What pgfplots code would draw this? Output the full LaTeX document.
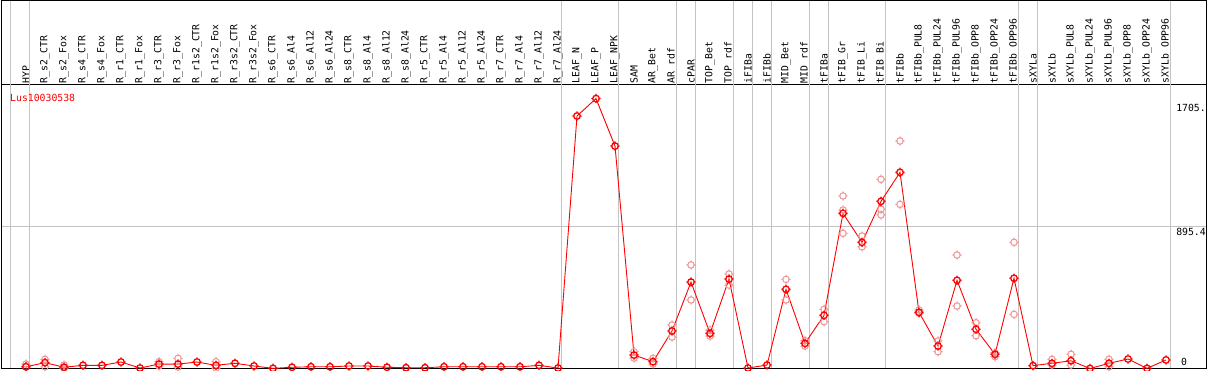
\documentclass[border=0pt]{standalone}
\usepackage{fontspec}
\setmainfont{DejaVu Sans}
\setmonofont{DejaVu Sans Mono}
\usepackage{pgfplots}
\pgfplotsset{compat=1.18}
\usepackage{pgfplotstable}

\pgfdeclareplotmark{otick}{%
  \pgfpathcircle{\pgfpointorigin}{\pgfplotmarksize}%
  \pgfpathmoveto{\pgfpoint{0pt}{0.7\pgfplotmarksize}}\pgfpathlineto{\pgfpoint{0pt}{1.4\pgfplotmarksize}}%
  \pgfpathmoveto{\pgfpoint{0pt}{-0.7\pgfplotmarksize}}\pgfpathlineto{\pgfpoint{0pt}{-1.4\pgfplotmarksize}}%
  \pgfpathmoveto{\pgfpoint{0.7\pgfplotmarksize}{0pt}}\pgfpathlineto{\pgfpoint{1.4\pgfplotmarksize}{0pt}}%
  \pgfpathmoveto{\pgfpoint{-0.7\pgfplotmarksize}{0pt}}\pgfpathlineto{\pgfpoint{-1.4\pgfplotmarksize}{0pt}}%
  \pgfusepathqstroke}

\definecolor{rep}{RGB}{240,150,150}
\definecolor{grd}{RGB}{195,195,195}

\pgfplotstableread{
x y
0 11
1 37
2 8
3 20
4 20
5 41
6 3
7 28
8 28
9 41
10 20
11 33
12 16
13 1
14 8
15 11
16 11
17 16
18 16
19 8
20 5
21 5
22 11
23 11
24 11
25 11
26 11
27 20
28 3
29 1595
30 1705
31 1405
32 85
33 43
34 237
35 546
36 222
37 565
38 3
39 22
40 500
41 159
42 336
43 980
44 797
45 1056
46 1239
47 355
48 142
49 557
50 248
51 90
52 570
53 18
54 33
55 49
56 0
57 33
58 60
59 1
60 54
}\mainT

\pgfplotstableread{
x y
0 28
0 11
1 58
1 11
2 22
2 3
7 43
7 16
8 64
8 9
10 43
10 3
32 106
32 66
33 64
33 28
34 275
34 199
35 654
35 433
36 243
36 205
37 597
37 527
40 563
40 433
41 176
41 142
42 374
42 296
43 1090
43 1001
43 854
44 837
44 769
45 1195
45 1006
45 970
46 1437
46 1037
47 370
47 349
48 174
48 106
49 717
49 395
50 289
50 207
51 100
51 75
52 797
52 342
54 58
54 22
55 90
55 22
57 58
57 11
}\repT

\begin{document}
\begin{tikzpicture}
\begin{axis}[
  width=1205pt, height=283.5pt, scale only axis,
  xmin=-1.3158, xmax=62.105, ymin=0, ymax=1790.8,
  clip=false,
  axis line style={black, line width=1pt},
  xtick={0,...,60},
  xticklabels={HYP,R\_s2\_CTR,R\_s2\_Fox,R\_s4\_CTR,R\_s4\_Fox,R\_r1\_CTR,R\_r1\_Fox,R\_r3\_CTR,R\_r3\_Fox,R\_r1s2\_CTR,R\_r1s2\_Fox,R\_r3s2\_CTR,R\_r3s2\_Fox,R\_s6\_CTR,R\_s6\_Al4,R\_s6\_Al12,R\_s6\_Al24,R\_s8\_CTR,R\_s8\_Al4,R\_s8\_Al12,R\_s8\_Al24,R\_r5\_CTR,R\_r5\_Al4,R\_r5\_Al12,R\_r5\_Al24,R\_r7\_CTR,R\_r7\_Al4,R\_r7\_Al12,R\_r7\_Al24,LEAF\_N,LEAF\_P,LEAF\_NPK,SAM,AR\_Bet,AR\_rdf,cPAR,TOP\_Bet,TOP\_rdf,iFIBa,iFIBb,MID\_Bet,MID\_rdf,tFIBa,tFIB\_Gr,tFIB\_Li,tFIB\_Bi,tFIBb,tFIBb\_PUL8,tFIBb\_PUL24,tFIBb\_PUL96,tFIBb\_OPP8,tFIBb\_OPP24,tFIBb\_OPP96,sXYLa,sXYLb,sXYLb\_PUL8,sXYLb\_PUL24,sXYLb\_PUL96,sXYLb\_OPP8,sXYLb\_OPP24,sXYLb\_OPP96},
  xticklabel pos=upper,
  major tick length=0pt,
  xticklabel style={rotate=90, anchor=west, font=\ttfamily\fontsize{9.8}{10}\selectfont, inner sep=1.5pt},
  ytick={895.4}, yticklabels={},
  ymajorgrids, major grid style={grd, line width=1pt},
]
\pgfplotsinvokeforeach{-0.842,0.21,28.21,31.21,34.26,35.26,37.21,38.26,39.26,41.21,42.26,45.26,52.21,53.26,60.21}{%
  \draw[grd, line width=1pt] (axis cs:#1,0) -- (axis cs:#1,2327.7);}
\draw[black, line width=1pt] (rel axis cs:0,1) -- (rel axis cs:0,1.298) -- (rel axis cs:1,1.298) -- (rel axis cs:1,1);
\draw[black, line width=1.8pt] (rel axis cs:0,0) -- (rel axis cs:1,0);
\addplot[rep, only marks, mark=otick, mark size=3.3pt, mark options={line width=1pt}] table {\repT};
\addplot[red, line width=0.9pt, mark=otick, mark size=3.3pt, mark options={line width=1.3pt}] table {\mainT};
\node[anchor=west, red, inner sep=0pt, font=\ttfamily\fontsize{9.8}{10}\selectfont] at (axis cs:-0.842,1710) {Lus10030538};
\node[anchor=west, inner sep=0pt, font=\ttfamily\fontsize{9.8}{10}\selectfont] at (axis cs:60.53,1645) {1705.};
\node[anchor=west, inner sep=0pt, font=\ttfamily\fontsize{9.8}{10}\selectfont] at (axis cs:60.53,862) {895.4};
\node[anchor=west, inner sep=0pt, font=\ttfamily\fontsize{9.8}{10}\selectfont] at (axis cs:60.79,41) {0};
\coordinate (bl) at (rel axis cs:0,0);
\coordinate (tr) at (rel axis cs:1,1.29982);
\end{axis}
\pgfresetboundingbox
\path ([shift={(-1pt,-1.5pt)}]bl) rectangle ([shift={(3pt,0pt)}]tr);
\end{tikzpicture}
\end{document}
